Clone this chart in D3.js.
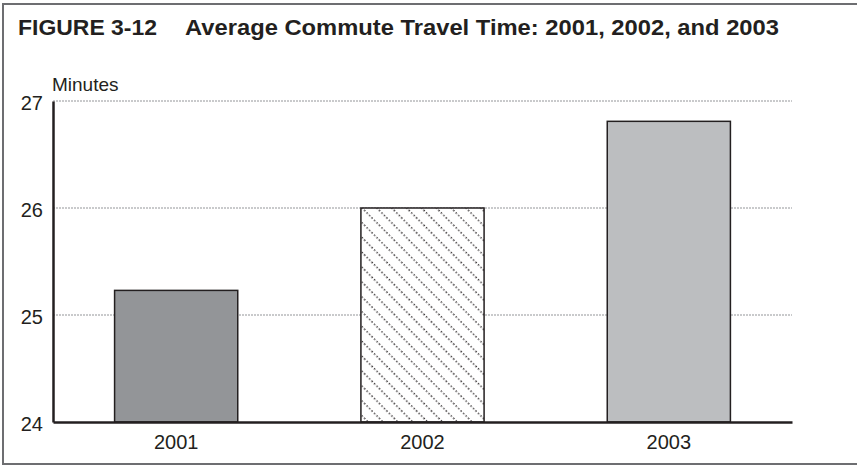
<!DOCTYPE html>
<html>
<head>
<meta charset="utf-8">
<script src="https://cdn.jsdelivr.net/npm/d3@7"></script>
<style>
  html, body { margin: 0; padding: 0; background: #fff; }
  svg { display: block; }
</style>
</head>
<body>
<svg id="chart" width="857" height="466"></svg>
<script>
const figureLabel = "FIGURE 3-12";
const titleText = "Average Commute Travel Time: 2001, 2002, and 2003";
const yAxisLabel = "Minutes";
const categories = ["2001", "2002", "2003"];
const values = [25.23, 26.0, 26.81];
const fills = ["#939598", "url(#hatch)", "#bcbec0"];
const yTicks = [24, 25, 26, 27];

const svg = d3.select("#chart");
const W = 857, H = 466;
const margin = { left: 53, right: 65, top: 101, bottom: 44 };

// pattern
const defs = svg.append("defs");
const P = 10.5;
const pat = defs.append("pattern")
  .attr("id", "hatch")
  .attr("patternUnits", "userSpaceOnUse")
  .attr("width", P).attr("height", P)
  .attr("patternTransform", "rotate(-45)");
pat.append("rect").attr("width", P).attr("height", P).attr("fill", "#fff");
pat.append("line")
  .attr("x1", 4).attr("x2", 4).attr("y1", 0).attr("y2", P)
  .attr("stroke", "#231f20").attr("stroke-width", 1.3)
  .attr("stroke-dasharray", "1.5,2");

// frame
svg.append("rect")
  .attr("x", 3).attr("y", 4).attr("width", 870).attr("height", 460)
  .attr("fill", "none").attr("stroke", "#6d6e71").attr("stroke-width", 2);

// title
const tFont = "'Liberation Sans', Arial, sans-serif";
svg.append("text")
  .attr("x", 18).attr("y", 35)
  .attr("font-family", tFont)
  .attr("font-weight", "bold").attr("font-size", 22)
  .attr("fill", "#231f20")
  .attr("textLength", 139).attr("lengthAdjust", "spacingAndGlyphs")
  .text(figureLabel);
svg.append("text")
  .attr("x", 185).attr("y", 35)
  .attr("font-family", tFont)
  .attr("font-weight", "bold").attr("font-size", 22)
  .attr("fill", "#231f20")
  .attr("textLength", 594).attr("lengthAdjust", "spacingAndGlyphs")
  .text(titleText);

const x = d3.scaleBand()
  .domain(categories)
  .range([margin.left, W - margin.right])
  .paddingInner(0.5).paddingOuter(0.25);

const y = d3.scaleLinear()
  .domain([24, 27])
  .range([422, margin.top]);

// gridlines
svg.append("g").selectAll("line")
  .data(yTicks.filter(d => d > 24))
  .join("line")
  .attr("x1", margin.left).attr("x2", W - margin.right)
  .attr("y1", d => y(d)).attr("y2", d => y(d))
  .attr("stroke", "#939598").attr("stroke-width", 1)
  .attr("stroke-dasharray", "2,1");

// bars
svg.append("g").selectAll("rect")
  .data(categories)
  .join("rect")
  .attr("x", d => x(d))
  .attr("width", x.bandwidth())
  .attr("y", (d, i) => y(values[i]))
  .attr("height", (d, i) => y(24) - y(values[i]))
  .attr("fill", (d, i) => fills[i])
  .attr("stroke", "#231f20").attr("stroke-width", 1.5);

// y axis
const yAxis = d3.axisLeft(y).tickValues(yTicks).tickSize(0).tickPadding(10).tickFormat(d3.format("d"));
const gy = svg.append("g").attr("transform", `translate(${margin.left},0)`).call(yAxis);
gy.select(".domain").attr("stroke", "#231f20").attr("stroke-width", 2.5);
gy.selectAll("text")
  .attr("font-family", "'Liberation Sans Narrow', 'Liberation Sans', Arial, sans-serif")
  .attr("font-size", 20).attr("fill", "#231f20").attr("dy", "0.4em");

// x axis
const xAxis = d3.axisBottom(x).tickSize(0).tickPadding(13);
const gx = svg.append("g").attr("transform", `translate(0,${y(24)})`).call(xAxis);
gx.select(".domain").attr("stroke", "#231f20").attr("stroke-width", 2.5);
gx.selectAll("text")
  .attr("font-family", "'Liberation Sans Narrow', 'Liberation Sans', Arial, sans-serif")
  .attr("font-size", 20).attr("fill", "#231f20");

// y label
svg.append("text")
  .attr("x", 52).attr("y", 91)
  .attr("font-family", "'Liberation Sans Narrow', 'Liberation Sans', Arial, sans-serif")
  .attr("font-size", 19).attr("fill", "#231f20")
  .text(yAxisLabel);
</script>
</body>
</html>
